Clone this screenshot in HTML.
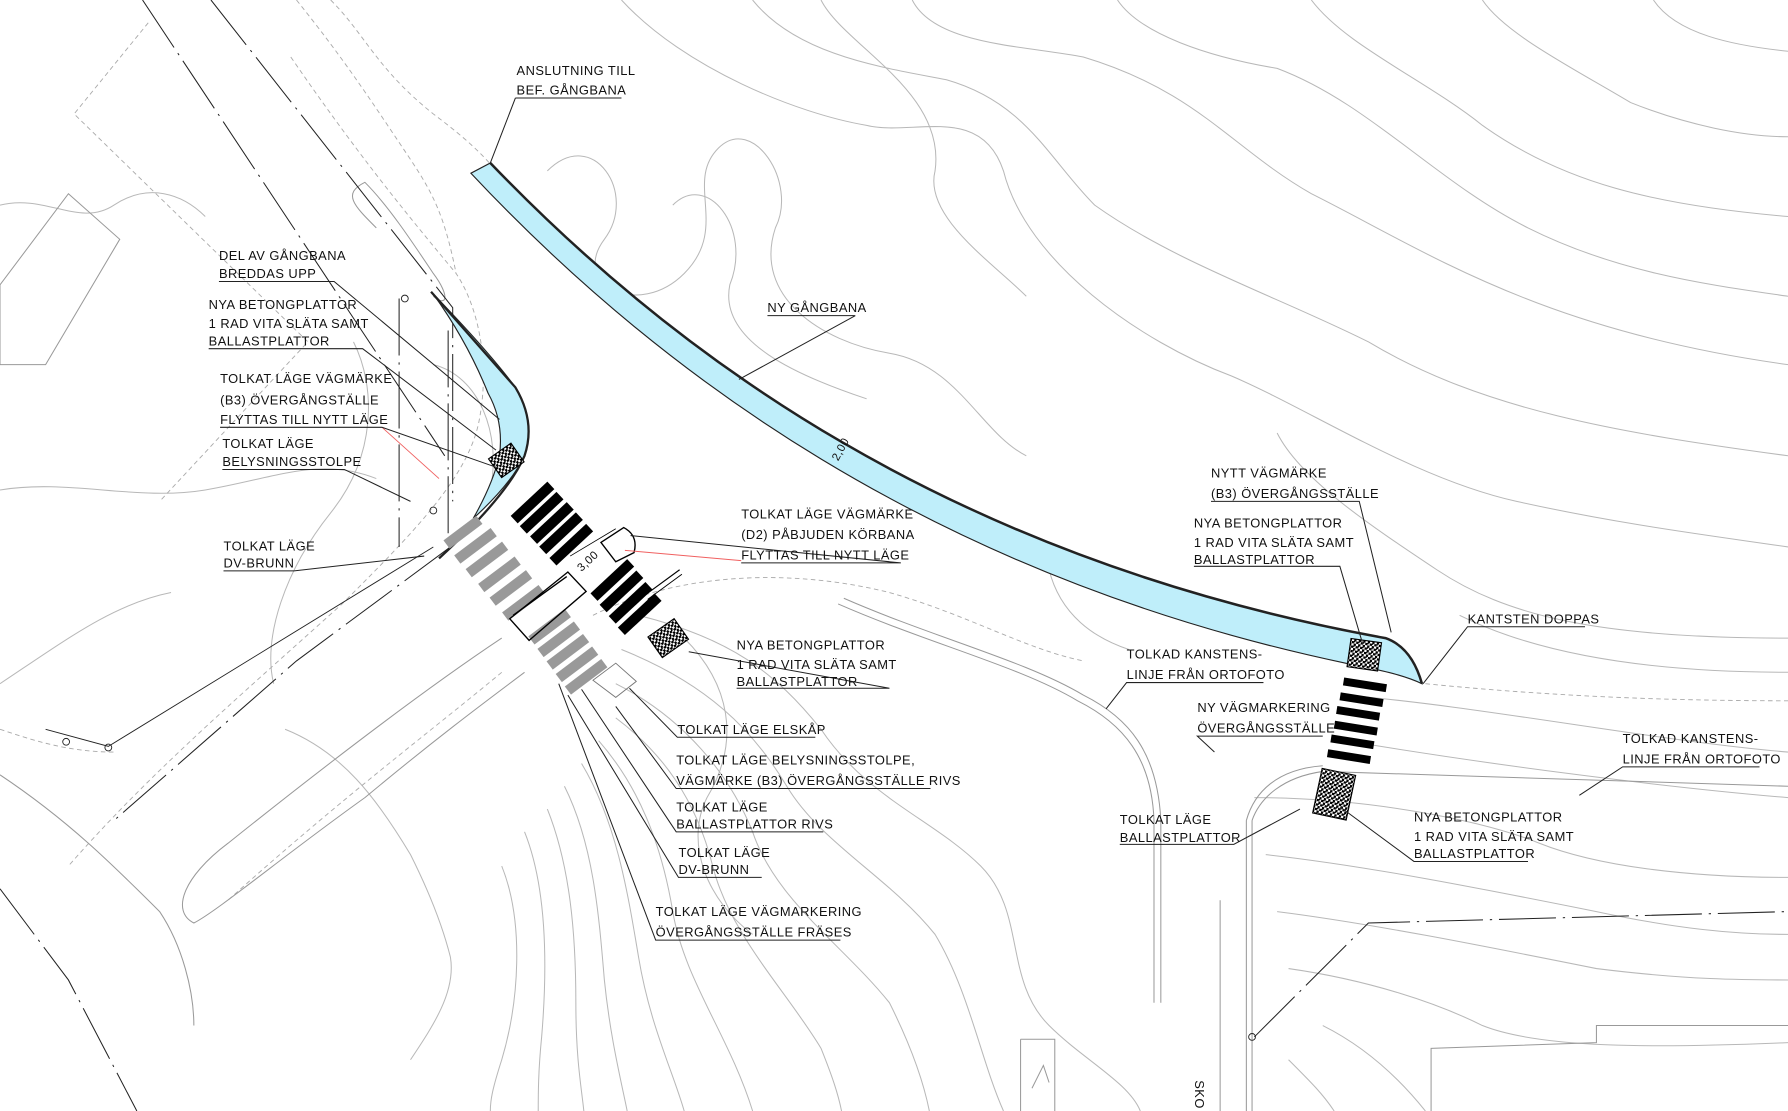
<!DOCTYPE html>
<html><head><meta charset="utf-8"><style>
html,body{margin:0;padding:0;background:#fff;}
svg{display:block}
text{font-family:"Liberation Sans",sans-serif;font-size:11.3px;fill:#111;letter-spacing:0.4px}
</style></head><body>
<svg width="1788" height="1111" viewBox="0 0 1568 975" preserveAspectRatio="none" xmlns="http://www.w3.org/2000/svg">
<defs>
<pattern id="hp" width="4" height="4" patternUnits="userSpaceOnUse">
<rect width="4" height="4" fill="#fff"/><rect x="0" y="0" width="2" height="2" fill="#000"/><rect x="2" y="2" width="2" height="2" fill="#000"/><rect x="2" y="0" width="1" height="1" fill="#000"/>
</pattern>
</defs>
<rect width="1568" height="975" fill="#fff"/>
<g fill="none" stroke="#b8b8b8" stroke-width="0.9">
<path d="M545,0 C600,60 700,100 760,110 C800,120 860,90 880,150 C900,230 1000,300 1080,330 C1150,360 1240,420 1330,440 C1420,460 1500,470 1568,480"/>
<path d="M660,0 C700,50 780,60 830,70 C900,90 920,140 960,180 C1030,230 1120,260 1200,300 C1300,360 1420,380 1568,400"/>
<path d="M800,0 C820,40 900,40 950,50 C1050,80 1080,130 1150,170 C1250,220 1350,290 1568,320"/>
<path d="M980,0 C1000,30 1060,50 1120,60 C1200,90 1260,160 1340,200 C1420,240 1500,250 1568,260"/>
<path d="M1150,0 C1180,40 1250,70 1300,110 C1370,160 1450,180 1568,190"/>
<path d="M1300,0 C1320,30 1380,60 1430,90 C1480,110 1530,120 1568,120"/>
<path d="M1450,0 C1470,30 1520,40 1568,45"/>
<path d="M480,150 C520,110 560,170 530,210 C500,250 560,280 600,240 C640,200 600,160 630,130 C660,100 700,160 680,200 C660,260 720,300 780,310 C840,320 860,380 900,400"/>
<path d="M590,180 C620,150 660,200 640,250 C630,300 700,330 760,350"/>
<path d="M720,0 C740,40 830,80 820,150 C810,190 870,230 900,260"/>
<path d="M1120,380 C1140,420 1200,460 1260,500 C1320,540 1400,560 1568,560"/>
<path d="M1280,540 C1320,560 1400,590 1568,590"/>
<path d="M1180,610 C1300,620 1450,650 1568,660"/>
<path d="M1180,650 C1300,670 1450,690 1568,700"/>
<path d="M1100,700 C1200,700 1300,720 1350,740 C1400,760 1480,770 1568,770"/>
<path d="M1110,750 C1200,760 1300,780 1400,800 C1470,815 1520,820 1568,820"/>
<path d="M1120,800 C1200,810 1300,830 1400,850 C1480,860 1530,860 1568,860"/>
<path d="M1130,850 C1200,860 1260,880 1300,900 C1350,920 1450,920 1568,915"/>
<path d="M1160,900 C1200,920 1230,950 1250,975"/>
<path d="M1130,930 C1150,950 1160,960 1170,975"/>
<path d="M560,540 C640,560 680,590 720,640 C760,700 820,720 860,760 C900,800 880,860 920,900 C950,930 990,950 1000,975"/>
<path d="M545,570 C620,600 660,640 690,690 C720,740 780,770 820,820 C850,870 860,930 880,975"/>
<path d="M540,600 C600,630 640,680 660,730 C680,790 740,830 780,880 C800,920 810,950 815,975"/>
<path d="M540,630 C580,660 610,700 625,760 C640,820 690,870 720,920 C730,945 735,960 738,975"/>
<path d="M525,650 C560,690 580,740 590,800 C600,860 640,910 660,975"/>
<path d="M510,670 C540,720 550,780 560,840 C570,900 590,940 600,975"/>
<path d="M495,690 C520,740 525,800 530,860 C535,910 545,950 550,975"/>
<path d="M480,710 C500,760 505,820 505,880 C505,930 510,955 512,975"/>
<path d="M460,730 C480,780 480,850 475,910 C472,940 472,960 472,975"/>
<path d="M440,760 C460,810 455,880 440,930 C432,955 430,965 430,975"/>
<path d="M250,640 C300,660 330,700 360,750 C380,790 390,820 395,840 C400,870 380,900 360,930"/>
<path d="M0,180 C40,170 70,200 100,180 C130,160 160,170 180,190"/>
<path d="M0,430 C60,420 120,440 180,430 C240,420 280,400 330,420"/>
<path d="M380,320 C420,330 440,380 430,430"/>
<path d="M310,300 C330,340 330,400 290,450 C250,500 230,560 240,600"/>
<path d="M0,600 C60,560 100,530 150,520"/>
<path d="M600,560 C640,600 650,650 620,700 C600,740 620,790 660,820"/>
<path d="M920,500 C930,540 960,560 990,570"/>
</g>
<g fill="none" stroke="#aaa" stroke-width="0.8" stroke-dasharray="4,3">
<path d="M130,20 L65,100 L270,300 L140,440"/>
<path d="M290,0 C320,30 330,60 380,100 C420,130 440,150 470,200"/>
<path d="M260,0 C300,50 320,80 360,140 C380,170 390,190 400,240"/>
<path d="M255,50 C310,130 350,180 400,240 C420,270 430,320 420,370 C410,420 360,470 300,530 C200,620 130,680 60,760"/>
<path d="M440,590 C380,640 300,700 200,790"/>
<path d="M520,540 C600,500 700,500 780,520 C850,540 900,570 950,580"/>
<path d="M1250,600 C1350,610 1450,615 1568,615"/>
<path d="M0,640 C30,650 60,660 100,660"/>
</g>
<g fill="none" stroke="#999" stroke-width="0.9">
<path d="M740,525 C820,560 900,580 950,610 C990,630 1015,660 1018,720 L1018,880"/>
<path d="M735,530 C815,565 895,585 945,615 C985,635 1010,665 1012,720 L1012,880"/>
<path d="M1070,790 L1070,975"/><path d="M1098,720 C1105,700 1125,682 1160,677 L1568,690"/>
<path d="M1093,720 C1100,695 1120,675 1160,672"/>
<path d="M1093,720 L1093,975"/><path d="M1098,720 L1098,975"/>
<path d="M0,250 L0,320 L40,320 L105,210 L60,170 Z"/>
<path d="M1255,975 L1255,920 L1400,915 L1400,900 L1568,900"/>
<path d="M895,912 L925,912 L925,975 M895,912 L895,975 M905,955 L915,935 L920,950"/>
<path d="M440,560 C380,600 300,660 200,740 C160,770 150,800 170,810 C190,800 250,750 320,700 C380,650 420,620 460,590"/>
<path d="M0,680 C60,720 100,760 140,800 C160,830 170,870 170,900"/>
<path d="M330,200 C310,180 300,170 320,160 C340,180 360,210 380,240 C395,260 392,270 380,260"/>
</g>
<g fill="none" stroke="#222" stroke-width="0.9" stroke-dasharray="50,6,2,6">
<path d="M125,0 L390,400"/><path d="M185,0 L397,270 L397,440"/>
<path d="M395,480 L260,580 L100,720"/>
<path d="M0,780 L60,860 L120,975"/>
<path d="M350,262 L350,480"/><path d="M393,290 L393,480"/>
<path d="M1100,910 L1200,810 L1568,800"/>
</g>
<g fill="none" stroke="#222" stroke-width="0.8">
<path d="M40,640 L95,655 L380,480"/><circle cx="58" cy="651" r="3"/><circle cx="95" cy="656" r="3"/>
<circle cx="355" cy="262" r="3"/><circle cx="380" cy="448" r="3"/><circle cx="1098" cy="910" r="3"/>
</g>
<!-- blue gangbana -->
<path d="M430,143 C590,310 830,490 1215,560 Q1238,568 1247,600 C1230,592 1210,588 1180,582 C815,505 575,325 413,152 Z" fill="#bfeefa" stroke="#222" stroke-width="1"/>
<path d="M430,143 C590,310 830,490 1215,560 Q1238,568 1247,600" fill="none" stroke="#222" stroke-width="2.2"/>
<!-- left blue -->
<path d="M380,258 Q430,310 452,340 Q470,370 460,400 Q448,425 415,455 Q432,425 438,400 Q442,370 428,345 Q410,300 380,258 Z" fill="#bfeefa" stroke="#222" stroke-width="1"/>
<path d="M378,256 L452,340 Q470,370 460,400 Q445,435 385,490" fill="none" stroke="#222" stroke-width="2"/>
<g stroke="#000" stroke-width="1" fill="url(#hp)">
<rect x="-12" y="-10" width="24" height="20" transform="translate(444,404) rotate(-35)"/>
<rect x="-14" y="-11" width="28" height="22" transform="translate(586,560) rotate(-35)"/>
<rect x="1183" y="562" width="27" height="25" transform="rotate(8 1196 574)"/>
<rect x="1155" y="677" width="30" height="40" transform="rotate(12 1170 697)"/>
</g>
<g fill="#000">
<g transform="translate(467,441) rotate(-43)"><rect x="-22" y="-4.5" width="44" height="9"/></g>
<g transform="translate(475,450) rotate(-43)"><rect x="-22" y="-4.5" width="44" height="9"/></g>
<g transform="translate(484,459) rotate(-43)"><rect x="-22" y="-4.5" width="44" height="9"/></g>
<g transform="translate(492,468) rotate(-43)"><rect x="-22" y="-4.5" width="44" height="9"/></g>
<g transform="translate(501,478) rotate(-43)"><rect x="-22" y="-4.5" width="44" height="9"/></g>
<g transform="translate(537,509) rotate(-43)"><rect x="-22" y="-4.5" width="44" height="9"/></g>
<g transform="translate(545,519) rotate(-43)"><rect x="-22" y="-4.5" width="44" height="9"/></g>
<g transform="translate(553,529) rotate(-43)"><rect x="-22" y="-4.5" width="44" height="9"/></g>
<g transform="translate(561,539) rotate(-43)"><rect x="-22" y="-4.5" width="44" height="9"/></g>
</g>
<g fill="#999">
<g transform="translate(406,467) rotate(-37)"><rect x="-18" y="-4.5" width="36" height="9"/></g>
<g transform="translate(417,479) rotate(-37)"><rect x="-20" y="-4.5" width="40" height="9"/></g>
<g transform="translate(427,491) rotate(-37)"><rect x="-20" y="-4.5" width="40" height="9"/></g>
<g transform="translate(438,504) rotate(-37)"><rect x="-20" y="-4.5" width="40" height="9"/></g>
<g transform="translate(448,516) rotate(-37)"><rect x="-20" y="-4.5" width="40" height="9"/></g>
<g transform="translate(459,529) rotate(-37)"><rect x="-20" y="-4.5" width="40" height="9"/></g>
<g transform="translate(482,550) rotate(-37)"><rect x="-20" y="-4.5" width="40" height="9"/></g>
<g transform="translate(490,561) rotate(-37)"><rect x="-20" y="-4.5" width="40" height="9"/></g>
<g transform="translate(498,572) rotate(-37)"><rect x="-20" y="-4.5" width="40" height="9"/></g>
<g transform="translate(506,583) rotate(-37)"><rect x="-20" y="-4.5" width="40" height="9"/></g>
<g transform="translate(514,594) rotate(-37)"><rect x="-20" y="-4.5" width="40" height="9"/></g>
</g>
<g fill="#000">
<g transform="translate(1197,601) rotate(9)"><rect x="-19" y="-3.5" width="38" height="7"/></g>
<g transform="translate(1194,614) rotate(9)"><rect x="-19" y="-3.5" width="38" height="7"/></g>
<g transform="translate(1191,626) rotate(9)"><rect x="-19" y="-3.5" width="38" height="7"/></g>
<g transform="translate(1189,639) rotate(9)"><rect x="-19" y="-3.5" width="38" height="7"/></g>
<g transform="translate(1186,651) rotate(9)"><rect x="-19" y="-3.5" width="38" height="7"/></g>
<g transform="translate(1183,664) rotate(9)"><rect x="-19" y="-3.5" width="38" height="7"/></g>
</g>
<g fill="none" stroke="#000" stroke-width="1.2">
<path d="M447,543 L498,502 L514,519 L464,562 Z"/><path d="M450,540 L497,506"/>
<path d="M527,476 L547,463 Q560,470 556,485 L540,493 Z"/>
<path d="M500,488 L540,464" stroke-width="0.7"/><text x="0" y="0" transform="translate(510,502) rotate(-43)" style="font-size:10px" stroke="none" fill="#111">3,00</text>
<path d="M520,597 L540,582 L558,598 L540,612 Z" stroke="#777" stroke-width="0.8"/>
<path d="M566,522 L596,500" stroke-width="1"/><path d="M568,526 L598,504" stroke-width="0.8"/>
</g>
<text transform="translate(735,405) rotate(-62)" style="font-size:10px">2,00</text>
<g stroke="#f06060" stroke-width="0.8" fill="none"><path d="M335,375 L385,420"/><path d="M548,483 L650,492"/></g>
<g stroke="#222" stroke-width="0.9" fill="none">
<path d="M452,86 L545,86 M452,86 L430,143"/>
<path d="M192,247 L293,247 L438,368"/>
<path d="M183,306 L318,306 L435,395"/>
<path d="M193,375 L335,375 L435,410"/>
<path d="M195,412 L302,412 L360,440"/>
<path d="M196,501 L258,501 L372,488"/>
<path d="M650,494 L790,494 L553,470"/>
<path d="M673,277 L750,277 L648,333"/>
<path d="M1062,440 L1192,440 L1220,555"/>
<path d="M1047,497 L1175,497 L1195,565"/>
<path d="M1287,550 L1390,550 L1287,550 L1248,600"/>
<path d="M988,599 L1108,599 L988,599 L970,622"/>
<path d="M1050,646 L1160,646 L1050,646 L1065,660"/>
<path d="M1423,673 L1543,673 L1423,673 L1385,698"/>
<path d="M982,741 L1082,741 L1140,710"/>
<path d="M1240,756 L1340,756 L1240,756 L1175,708"/>
<path d="M646,604 L780,604 L604,572"/>
<path d="M594,647 L715,647 L594,647 L552,604"/>
<path d="M593,692 L816,692 L593,692 L540,620"/>
<path d="M593,730 L722,730 L593,730 L510,605"/>
<path d="M595,770 L668,770 L595,770 L498,610"/>
<path d="M575,825 L737,825 L575,825 L490,600"/>
</g>
<text x="453" y="66">ANSLUTNING TILL</text><text x="453" y="83">BEF. GÅNGBANA</text>
<text x="192" y="228">DEL AV GÅNGBANA</text><text x="192" y="244">BREDDAS UPP</text>
<text x="183" y="271">NYA BETONGPLATTOR</text><text x="183" y="288">1 RAD VITA SLÄTA SAMT</text><text x="183" y="303">BALLASTPLATTOR</text>
<text x="193" y="336">TOLKAT LÄGE VÄGMÄRKE</text><text x="193" y="355">(B3) ÖVERGÅNGSTÄLLE</text><text x="193" y="372">FLYTTAS TILL NYTT LÄGE</text>
<text x="195" y="393">TOLKAT LÄGE</text><text x="195" y="409">BELYSNINGSSTOLPE</text>
<text x="196" y="483">TOLKAT LÄGE</text><text x="196" y="498">DV-BRUNN</text>
<text x="673" y="274">NY GÅNGBANA</text>
<text x="650" y="455">TOLKAT LÄGE VÄGMÄRKE</text><text x="650" y="473">(D2) PÅBJUDEN KÖRBANA</text><text x="650" y="491">FLYTTAS TILL NYTT LÄGE</text>
<text x="1062" y="419">NYTT VÄGMÄRKE</text><text x="1062" y="437">(B3) ÖVERGÅNGSSTÄLLE</text>
<text x="1047" y="463">NYA BETONGPLATTOR</text><text x="1047" y="480">1 RAD VITA SLÄTA SAMT</text><text x="1047" y="495">BALLASTPLATTOR</text>
<text x="1287" y="547">KANTSTEN DOPPAS</text>
<text x="988" y="578">TOLKAD KANSTENS-</text><text x="988" y="596">LINJE FRÅN ORTOFOTO</text>
<text x="1050" y="625">NY VÄGMARKERING</text><text x="1050" y="643">ÖVERGÅNGSSTÄLLE</text>
<text x="1423" y="652">TOLKAD KANSTENS-</text><text x="1423" y="670">LINJE FRÅN ORTOFOTO</text>
<text x="982" y="723">TOLKAT LÄGE</text><text x="982" y="739">BALLASTPLATTOR</text>
<text x="1240" y="721">NYA BETONGPLATTOR</text><text x="1240" y="738">1 RAD VITA SLÄTA SAMT</text><text x="1240" y="753">BALLASTPLATTOR</text>
<text x="646" y="570">NYA BETONGPLATTOR</text><text x="646" y="587">1 RAD VITA SLÄTA SAMT</text><text x="646" y="602">BALLASTPLATTOR</text>
<text x="594" y="644">TOLKAT LÄGE ELSKÅP</text>
<text x="593" y="671">TOLKAT LÄGE BELYSNINGSSTOLPE,</text><text x="593" y="689">VÄGMÄRKE (B3) ÖVERGÅNGSSTÄLLE RIVS</text>
<text x="593" y="712">TOLKAT LÄGE</text><text x="593" y="727">BALLASTPLATTOR RIVS</text>
<text x="595" y="752">TOLKAT LÄGE</text><text x="595" y="767">DV-BRUNN</text>
<text x="575" y="804">TOLKAT LÄGE VÄGMARKERING</text><text x="575" y="822">ÖVERGÅNGSSTÄLLE FRÄSES</text>
<text transform="translate(1048,948) rotate(90)">SKO</text>
</svg>
</body></html>
